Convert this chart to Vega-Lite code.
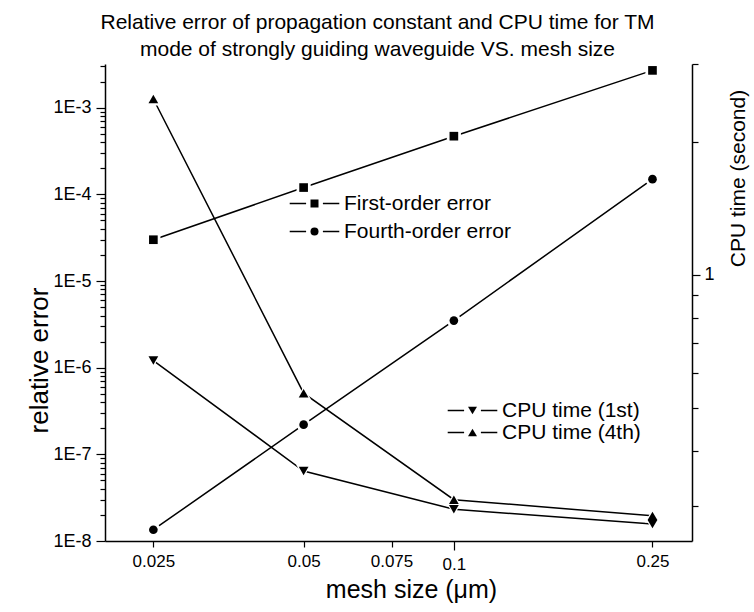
{
  "$schema": "https://vega.github.io/schema/vega-lite/v6.json",
  "width": 587,
  "height": 477,
  "autosize": "none",
  "padding": {"left": 105, "top": 64, "right": 62, "bottom": 71},
  "background": "white",
  "config": {
    "view": {"stroke": null},
    "font": "Liberation Sans",
    "axis": {
      "grid": false,
      "domainColor": "black",
      "domainWidth": 1.5,
      "tickColor": "black",
      "tickWidth": 1.2,
      "labelColor": "black",
      "labelFont": "Liberation Sans",
      "titleColor": "black",
      "titleFont": "Liberation Sans",
      "titleFontWeight": "normal",
      "labelOverlap": false,
      "labelFlush": false,
      "labelBound": false
    },
    "legend": {
      "labelFont": "Liberation Sans",
      "labelColor": "black",
      "labelLimit": 400
    }
  },
  "title": {
    "text": [
      "Relative error of propagation constant and CPU time for TM",
      "mode of strongly guiding waveguide VS. mesh size"
    ],
    "font": "Liberation Sans",
    "fontSize": 21,
    "fontWeight": "normal",
    "color": "black",
    "anchor": "middle",
    "dx": -21,
    "lineHeight": 27,
    "offset": -5
  },
  "datasets": {
    "err": [
      {"mesh": 0.025, "value": 3.0e-5, "series": "First-order error"},
      {"mesh": 0.05, "value": 1.2e-4, "series": "First-order error"},
      {"mesh": 0.1, "value": 4.7e-4, "series": "First-order error"},
      {"mesh": 0.25, "value": 2.7e-3, "series": "First-order error"},
      {"mesh": 0.025, "value": 1.35e-8, "series": "Fourth-order error"},
      {"mesh": 0.05, "value": 2.2e-7, "series": "Fourth-order error"},
      {"mesh": 0.1, "value": 3.5e-6, "series": "Fourth-order error"},
      {"mesh": 0.25, "value": 1.5e-4, "series": "Fourth-order error"}
    ],
    "cpu": [
      {"mesh": 0.025, "time": 0.64, "series": "CPU time (1st)"},
      {"mesh": 0.05, "time": 0.36, "series": "CPU time (1st)"},
      {"mesh": 0.1, "time": 0.295, "series": "CPU time (1st)"},
      {"mesh": 0.25, "time": 0.273, "series": "CPU time (1st)"},
      {"mesh": 0.025, "time": 2.5, "series": "CPU time (4th)"},
      {"mesh": 0.05, "time": 0.54, "series": "CPU time (4th)"},
      {"mesh": 0.1, "time": 0.31, "series": "CPU time (4th)"},
      {"mesh": 0.25, "time": 0.285, "series": "CPU time (4th)"}
    ]
  },
  "layer": [
    {
      "data": {"name": "err"},
      "encoding": {
        "x": {
          "field": "mesh",
          "type": "quantitative",
          "scale": {"type": "log", "domain": [0.02, 0.3], "nice": false},
          "axis": {
            "values": [0.025, 0.05, 0.075, 0.1, 0.25],
            "labelExpr": "datum.value + ''",
            "labelFontSize": 17,
            "labelPadding": 6,
            "tickSize": {"condition": {"test": "datum.value == 0.1", "value": 9}, "value": 6},
            "title": "mesh size (\u03bcm)",
            "titleFontSize": 25,
            "titlePadding": 5,
            "titleX": 306,
            "titleAlign": "center"
          }
        },
        "y": {
          "field": "value",
          "type": "quantitative",
          "scale": {"type": "log", "domain": [1e-8, 0.0032], "nice": false},
          "axis": {
            "orient": "left",
            "values": [
              1e-8, 2e-8, 3e-8, 4e-8, 5e-8, 6e-8, 7e-8, 8e-8, 9e-8,
              1e-7, 2e-7, 3e-7, 4e-7, 5e-7, 6e-7, 7e-7, 8e-7, 9e-7,
              1e-6, 2e-6, 3e-6, 4e-6, 5e-6, 6e-6, 7e-6, 8e-6, 9e-6,
              1e-5, 2e-5, 3e-5, 4e-5, 5e-5, 6e-5, 7e-5, 8e-5, 9e-5,
              1e-4, 2e-4, 3e-4, 4e-4, 5e-4, 6e-4, 7e-4, 8e-4, 9e-4,
              1e-3, 2e-3, 3e-3
            ],
            "labelExpr": "abs(log(datum.value) / LN10 - round(log(datum.value) / LN10)) < 0.0001 ? '1E' + round(log(datum.value) / LN10) : ''",
            "labelFontSize": 18,
            "labelPadding": 5,
            "tickSize": {"condition": {"test": "abs(log(datum.value) / LN10 - round(log(datum.value) / LN10)) < 0.0001", "value": 9}, "value": 5},
            "title": "relative error",
            "titleFontSize": 26,
            "titleAngle": 270,
            "titleX": -66,
            "titleY": 296,
            "titleAlign": "center",
            "titleBaseline": "middle"
          }
        }
      },
      "layer": [
        {
          "mark": {"type": "line", "color": "black", "strokeWidth": 1.5},
          "encoding": {"detail": {"field": "series", "type": "nominal"}}
        },
        {
          "mark": {"type": "point", "filled": true, "color": "white", "opacity": 1, "size": 200},
          "encoding": {
            "shape": {
              "field": "series",
              "type": "nominal",
              "scale": {"domain": ["First-order error", "Fourth-order error"], "range": ["square", "circle"]},
              "legend": null
            }
          }
        },
        {
          "mark": {"type": "point", "filled": true, "color": "black", "opacity": 1, "size": 75},
          "encoding": {
            "shape": {
              "field": "series",
              "type": "nominal",
              "scale": {"domain": ["First-order error", "Fourth-order error"], "range": ["square", "circle"]},
              "legend": null
            }
          }
        }
      ]
    },
    {
      "data": {"name": "cpu"},
      "encoding": {
        "x": {"field": "mesh", "type": "quantitative"},
        "y": {
          "field": "time",
          "type": "quantitative",
          "scale": {"type": "log", "domain": [0.25, 3], "nice": false},
          "axis": {
            "orient": "right",
            "values": [0.3, 0.4, 0.5, 0.6, 0.7, 0.8, 0.9, 1, 2, 3],
            "labelExpr": "datum.value == 1 ? '1' : ''",
            "labelFontSize": 18,
            "labelPadding": 4,
            "tickSize": {"condition": {"test": "datum.value == 1", "value": 8}, "value": 6},
            "title": "CPU time (second)",
            "titleFontSize": 21,
            "titleAngle": 270,
            "titleX": 46,
            "titleY": 114,
            "titleAlign": "center",
            "titleBaseline": "middle"
          }
        }
      },
      "layer": [
        {
          "mark": {"type": "line", "color": "black", "strokeWidth": 1.5},
          "encoding": {"detail": {"field": "series", "type": "nominal"}}
        },
        {
          "mark": {"type": "point", "filled": true, "color": "white", "opacity": 1, "size": 230},
          "encoding": {
            "shape": {
              "field": "series",
              "type": "nominal",
              "scale": {"domain": ["CPU time (1st)", "CPU time (4th)"], "range": ["triangle-down", "triangle-up"]},
              "legend": null
            }
          }
        },
        {
          "mark": {"type": "point", "filled": true, "color": "black", "opacity": 1, "size": 95},
          "encoding": {
            "shape": {
              "field": "series",
              "type": "nominal",
              "scale": {"domain": ["CPU time (1st)", "CPU time (4th)"], "range": ["triangle-down", "triangle-up"]},
              "legend": null
            }
          }
        }
      ]
    },
    {
      "data": {"values": []},
      "mark": {"type": "line", "color": "black", "strokeWidth": 1.5},
      "encoding": {
        "strokeDash": {
          "field": "series",
          "type": "nominal",
          "scale": {"domain": ["First-order error", "Fourth-order error"], "range": [[1, 0], [1, 0]]},
          "legend": {
            "title": null,
            "orient": "none",
            "legendX": 199,
            "legendY": 129,
            "symbolType": "M-6.2,0L-2.1,0M2.1,0L6.2,0",
            "symbolSize": 64,
            "symbolStrokeColor": "black",
            "symbolStrokeWidth": 1.5,
            "labelFontSize": 21,
            "labelOffset": 19,
            "labelOpacity": 0,
            "rowPadding": 6
          }
        }
      }
    },
    {
      "data": {"values": []},
      "mark": {"type": "point", "filled": true, "color": "black"},
      "encoding": {
        "shape": {
          "field": "series",
          "type": "nominal",
          "scale": {"domain": ["First-order error", "Fourth-order error"], "range": ["square", "circle"]},
          "legend": {
            "title": null,
            "orient": "none",
            "legendX": 199,
            "legendY": 129,
            "symbolSize": 64,
            "symbolFillColor": "black",
            "symbolStrokeWidth": 0,
            "symbolOpacity": 1,
            "labelFontSize": 21,
            "labelOffset": 19,
            "rowPadding": 6
          }
        }
      }
    },
    {
      "data": {"values": []},
      "mark": {"type": "line", "color": "black", "strokeWidth": 1.5},
      "encoding": {
        "strokeDash": {
          "field": "series",
          "type": "nominal",
          "scale": {"domain": ["CPU time (1st)", "CPU time (4th)"], "range": [[1, 0], [1, 0]]},
          "legend": {
            "title": null,
            "orient": "none",
            "legendX": 357,
            "legendY": 336,
            "symbolType": "M-6.2,0L-2.1,0M2.1,0L6.2,0",
            "symbolSize": 64,
            "symbolStrokeColor": "black",
            "symbolStrokeWidth": 1.5,
            "labelFontSize": 21,
            "labelOffset": 19,
            "labelOpacity": 0,
            "rowPadding": 0
          }
        }
      }
    },
    {
      "data": {"values": []},
      "mark": {"type": "point", "filled": true, "color": "black"},
      "encoding": {
        "shape": {
          "field": "series",
          "type": "nominal",
          "scale": {"domain": ["CPU time (1st)", "CPU time (4th)"], "range": ["triangle-down", "triangle-up"]},
          "legend": {
            "title": null,
            "orient": "none",
            "legendX": 357,
            "legendY": 336,
            "symbolSize": 80,
            "symbolFillColor": "black",
            "symbolStrokeWidth": 0,
            "symbolOpacity": 1,
            "labelFontSize": 21,
            "labelOffset": 19,
            "rowPadding": 0
          }
        }
      }
    }
  ],
  "resolve": {"scale": {"y": "independent", "shape": "independent", "strokeDash": "independent"}}
}
